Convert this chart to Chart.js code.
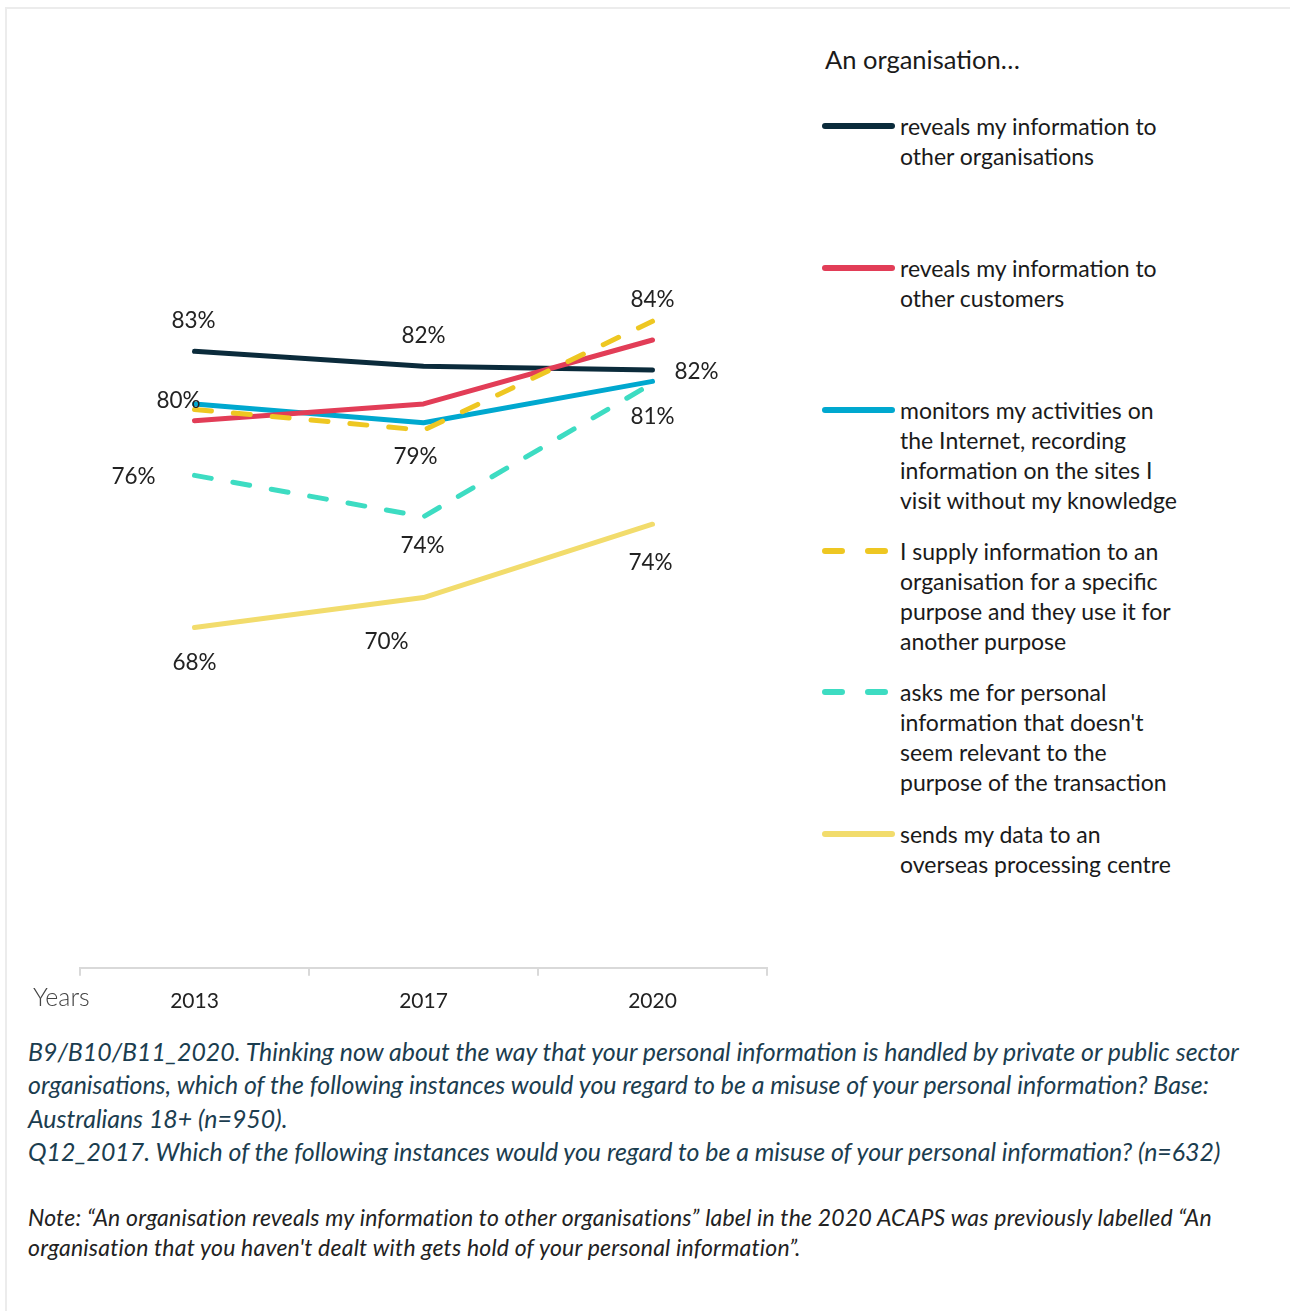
<!DOCTYPE html>
<html>
<head>
<meta charset="UTF-8">
<script src="https://cdn.jsdelivr.net/npm/chart.js@4.4.1/dist/chart.umd.min.js"></script>
<title>Misuse of personal information 2013-2020</title>
<style>
  body { margin: 0; background: #fff; font-family: Lato, "Noto Sans", sans-serif; color: #1a1a1a; }
  .page { position: relative; width: 1290px; height: 1311px; overflow: hidden; }
  .frame { position: absolute; left: 5px; top: 7px; width: 1320px; height: 1340px; border: 2px solid #ececec; }
  .chartBox { position: absolute; left: 0; top: 0; width: 780px; height: 1034px; }
  .years { position: absolute; left: 33px; top: 981px; font-size: 25px; font-weight: 300; color: #444; }
  .legendTitle { position: absolute; left: 825px; top: 44px; font-size: 25.5px; white-space: nowrap; }
  .item { position: absolute; left: 822px; }
  .item svg { position: absolute; left: 0; top: 10px; }
  .item .txt { position: absolute; left: 78px; top: 0; font-size: 23px; line-height: 30px; white-space: pre; }
  .caption { position: absolute; left: 28px; top: 1035px; font-style: italic; font-size: 24.9px; line-height: 33.3px; color: #1b3d4f; white-space: pre; }
  .note { position: absolute; left: 28px; top: 1202px; font-style: italic; font-size: 23px; letter-spacing: 0.2px; line-height: 30px; color: #222; white-space: pre; }
</style>
</head>
<body>
<div class="page">
  <div class="frame"></div>
  <div class="chartBox"><canvas id="trendChart"></canvas></div>
  <div class="years">Years</div>
  <div class="legendTitle">An organisation…</div>
  <div id="legend"></div>
  <div class="caption">B9/B10/B11_2020. Thinking now about the way that your personal information is handled by private or public sector
organisations, which of the following instances would you regard to be a misuse of your personal information? Base:
Australians 18+ (n=950).
Q12_2017. Which of the following instances would you regard to be a misuse of your personal information? (n=632)</div>
  <div class="note">Note: “An organisation reveals my information to other organisations” label in the 2020 ACAPS was previously labelled “An
organisation that you haven't dealt with gets hold of your personal information”.</div>
</div>
<script>
  const years = ['2013', '2017', '2020'];

  const revealsToOrgs      = [82.8, 82.0, 81.8];
  const revealsToCustomers = [79.1, 80.0, 83.4];
  const monitorsOnline     = [80.0, 79.0, 81.2];
  const usesForOtherPurpose = [79.7, 78.6, 84.4];
  const asksIrrelevant     = [76.2, 74.0, 81.1];
  const sendsOverseas      = [68.1, 69.7, 73.6];

  const seriesNames = [
    'reveals my information to\nother organisations',
    'reveals my information to\nother customers',
    'monitors my activities on\nthe Internet, recording\ninformation on the sites I\nvisit without my knowledge',
    'I supply information to an\norganisation for a specific\npurpose and they use it for\nanother purpose',
    'asks me for personal\ninformation that doesn\'t\nseem relevant to the\npurpose of the transaction',
    'sends my data to an\noverseas processing centre'
  ];
  const seriesValues = [revealsToOrgs, revealsToCustomers, monitorsOnline,
                        usesForOtherPurpose, asksIrrelevant, sendsOverseas];
  const colours = ['#0b2b3b', '#e23d57', '#00a8cf', '#eec722', '#3ddcc2', '#f2dc6c'];
  const dashed  = [false, false, false, true, true, false];
  const drawOrder = [4, 2, 3, 0, 1, 5];

  // which points carry a value label, and where the text sits relative to the point
  const labelSpots = [
    { ds: 0, i: 0, dx: -1,  dy: -31 },
    { ds: 0, i: 1, dx: 0,   dy: -31 },
    { ds: 0, i: 2, dx: 44,  dy: 2 },
    { ds: 3, i: 2, dx: 0,   dy: -21 },
    { ds: 2, i: 0, dx: -16, dy: -3 },
    { ds: 2, i: 1, dx: -8,  dy: 34 },
    { ds: 2, i: 2, dx: 0,   dy: 35 },
    { ds: 4, i: 0, dx: -61, dy: 1 },
    { ds: 4, i: 1, dx: -1,  dy: 29 },
    { ds: 5, i: 0, dx: 0,   dy: 35 },
    { ds: 5, i: 1, dx: -37, dy: 44 },
    { ds: 5, i: 2, dx: -2,  dy: 39 }
  ];

  const valueLabels = {
    id: 'valueLabels',
    afterDatasetsDraw(chart) {
      const ctx = chart.ctx;
      ctx.save();
      ctx.font = '22.5px Lato';
      ctx.fillStyle = '#222';
      ctx.textAlign = 'center';
      ctx.textBaseline = 'middle';
      labelSpots.forEach((s) => {
        const pt = chart.getDatasetMeta(s.ds).data[s.i];
        const v = chart.data.datasets[s.ds].data[s.i];
        ctx.fillText(Math.round(v) + '%', pt.x + s.dx, pt.y + s.dy);
      });
      ctx.restore();
    }
  };

  const datasets = seriesValues.map((vals, k) => ({
    label: seriesNames[k].replace(/\n/g, ' '),
    data: vals,
    borderColor: colours[k],
    backgroundColor: colours[k],
    borderWidth: 5,
    borderDash: dashed[k] ? [17, 22] : [],
    borderCapStyle: 'round',
    borderJoinStyle: 'round',
    pointRadius: 0,
    tension: 0,
    order: drawOrder[k]
  }));

  new Chart(document.getElementById('trendChart'), {
    type: 'line',
    data: { labels: years, datasets },
    options: {
      maintainAspectRatio: false,
      responsive: true,
      animation: false,
      layout: { padding: { left: 80, right: 13, top: 28, bottom: 7 } },
      plugins: { legend: { display: false }, tooltip: { enabled: false } },
      scales: {
        y: { display: false, min: 50, max: 100 },
        x: {
          offset: true,
          grid: { offset: true, drawOnChartArea: false, drawTicks: true, tickLength: 8, color: '#d9d9d9', lineWidth: 2 },
          border: { display: true, color: '#d9d9d9', width: 2 },
          ticks: { color: '#222', padding: 13, font: { family: 'Lato', size: 21 } }
        }
      }
    },
    plugins: [valueLabels]
  });

  // legend on the right, one entry per series
  const legendTops = [111, 253, 395, 536, 677, 819];
  const legend = document.getElementById('legend');
  seriesNames.forEach((name, k) => {
    const item = document.createElement('div');
    item.className = 'item';
    item.style.top = legendTops[k] + 'px';
    const dash = dashed[k] ? ' stroke-dasharray="17 26"' : '';
    item.innerHTML =
      '<svg width="74" height="10"><line x1="3" y1="5" x2="' + (dashed[k] ? 68 : 70) +
      '" y2="5" stroke="' + colours[k] + '" stroke-width="6" stroke-linecap="round"' + dash + '/></svg>' +
      '<div class="txt"></div>';
    item.querySelector('.txt').textContent = name;
    legend.appendChild(item);
  });
</script>
</body>
</html>
